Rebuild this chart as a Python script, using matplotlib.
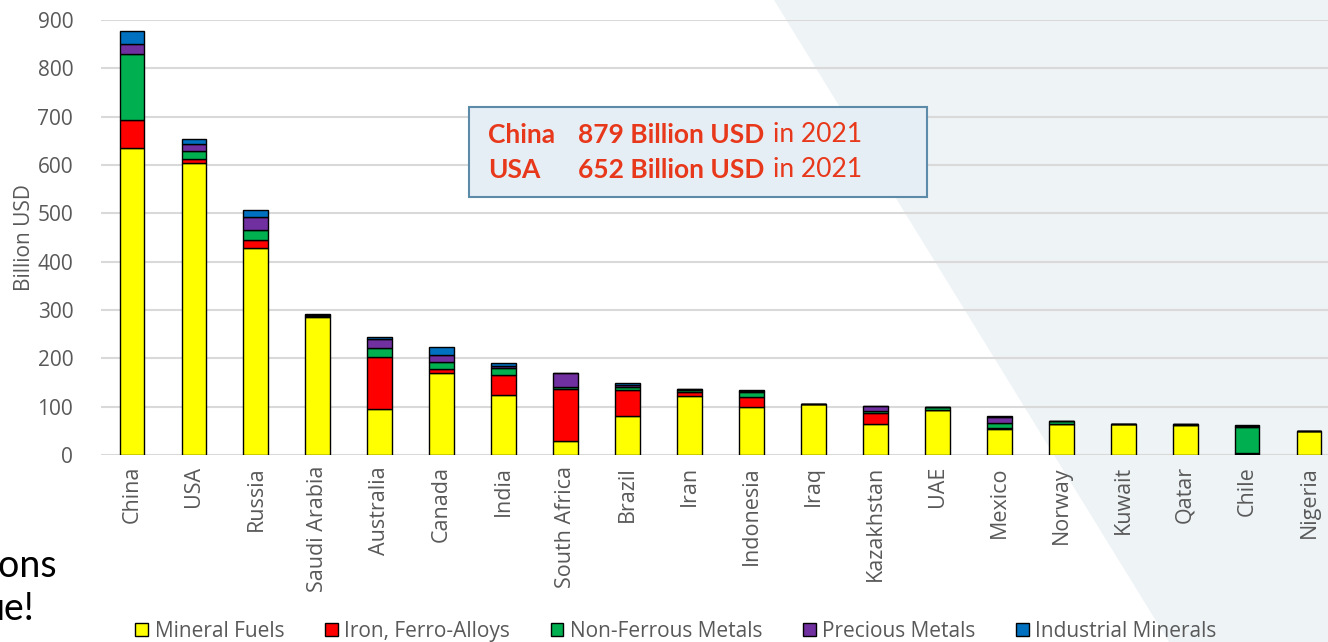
import matplotlib
matplotlib.use("Agg")
import matplotlib.pyplot as plt
import numpy as np
from matplotlib.patches import Patch, Polygon

countries = ["China", "USA", "Russia", "Saudi Arabia", "Australia", "Canada", "India",
             "South Africa", "Brazil", "Iran", "Indonesia", "Iraq", "Kazakhstan", "UAE",
             "Mexico", "Norway", "Kuwait", "Qatar", "Chile", "Nigeria"]

# billion USD
mineral_fuels = [636, 605, 429, 285, 95, 169, 124, 30, 81, 123, 99, 105, 65, 93, 54, 65, 65, 62, 3, 50]
iron_ferro    = [57, 7, 16, 2, 108, 9, 42, 107, 53, 7, 22, 0, 21, 1, 1, 0, 0, 0, 1, 0]
non_ferrous   = [136, 18, 20, 2, 18, 14, 15, 3, 6, 4, 9, 1, 6, 6, 11, 6, 0, 2, 54, 0]
precious      = [22, 13, 27, 1, 20, 15, 4, 29, 5, 2, 3, 0, 9, 0, 12, 0, 0, 0, 3, 0]
industrial    = [27, 10, 15, 1, 3, 17, 5, 1, 5, 1, 2, 0, 1, 0, 3, 0, 0, 0, 2, 0]

series = [mineral_fuels, iron_ferro, non_ferrous, precious, industrial]
names = ["Mineral Fuels", "Iron, Ferro-Alloys", "Non-Ferrous Metals", "Precious Metals", "Industrial Minerals"]
colors = ["#FFFF00", "#FF0000", "#00B050", "#7030A0", "#0070C0"]

plt.rcParams['font.family'] = ['Open Sans', 'DejaVu Sans']
grey = "#595959"

W, H = 1328, 642
fig = plt.figure(figsize=(W / 100, H / 100), dpi=100)

# light background band on the right (slide decoration), drawn behind everything
band = Polygon([(774 / W, 1), (1.01, 1), (1.01, 0), (1169 / W, 0)],
               closed=True, transform=fig.transFigure, facecolor="#EEF3F6",
               edgecolor="none", zorder=-10)
fig.patches.append(band)

ax = fig.add_axes([101 / W, (H - 455) / H, 1239 / W, 435 / H])
ax.patch.set_alpha(0)
ax.set_zorder(1)

x = np.arange(len(countries))
bottom = np.zeros(len(countries))
for vals, name, col in zip(series, names, colors):
    ax.bar(x, vals, width=0.4, bottom=bottom, color=col, edgecolor="black",
           linewidth=1, label=name, zorder=3)
    bottom += np.array(vals)

ax.set_xlim(-0.5, len(countries) - 0.5)
ax.set_ylim(0, 900)
ax.set_yticks(np.arange(0, 901, 100))
ax.grid(axis="y", color="#D9D9D9", linewidth=1.5, zorder=0)
for s in ax.spines.values():
    s.set_visible(False)
ax.tick_params(length=0)
ax.set_xticks(x)
ax.set_xticklabels(countries, rotation=90, fontsize=15.5, color=grey)
ax.tick_params(axis="x", pad=8)
ax.tick_params(axis="y", labelsize=15, labelcolor=grey, pad=20)
ax.set_ylabel("Billion USD", fontsize=15, color=grey, labelpad=2)

# info box
box = plt.Rectangle((469 / W, 1 - 197 / H), (927 - 469) / W, 90 / H,
                    transform=fig.transFigure, facecolor="#E6EEF5",
                    edgecolor="#5B8BA8", linewidth=1.5, zorder=5)
fig.patches.append(box)
red = "#E8381B"
fs = 19
for yy, who, amount in [(135, "China", "879 Billion USD"), (170, "USA", "652 Billion USD")]:
    fig.text(488 / W, 1 - yy / H, who, color=red, fontsize=fs, fontweight="bold",
             family="Lato", va="center", zorder=6)
    fig.text(578 / W, 1 - yy / H, amount, color=red, fontsize=fs, fontweight="bold",
             family="Lato", va="center", zorder=6)
    fig.text(773 / W, 1 - yy / H, "in 2021", color=red, fontsize=fs,
             family="Lato", va="center", zorder=6)

# slide text on the left, cut off by the picture edge as in the source
fig.text(58 / W, 1 - 566 / H, "ions", fontsize=27, ha="right", va="center", family="Lato")
fig.text(34 / W, 1 - 609 / H, "ue!", fontsize=27, ha="right", va="center", family="Lato")

handles = [Patch(facecolor=c, edgecolor="black", linewidth=1) for c in colors]
leg = fig.legend(handles, names, loc="lower center", bbox_to_anchor=(676 / W, -0.029),
                 ncol=5, frameon=False, handlelength=0.62, handleheight=0.62,
                 handletextpad=0.3, columnspacing=1.95, prop={"family": "Open Sans", "size": 15})
for t in leg.get_texts():
    t.set_color(grey)

fig.savefig("out.png", dpi=100)
